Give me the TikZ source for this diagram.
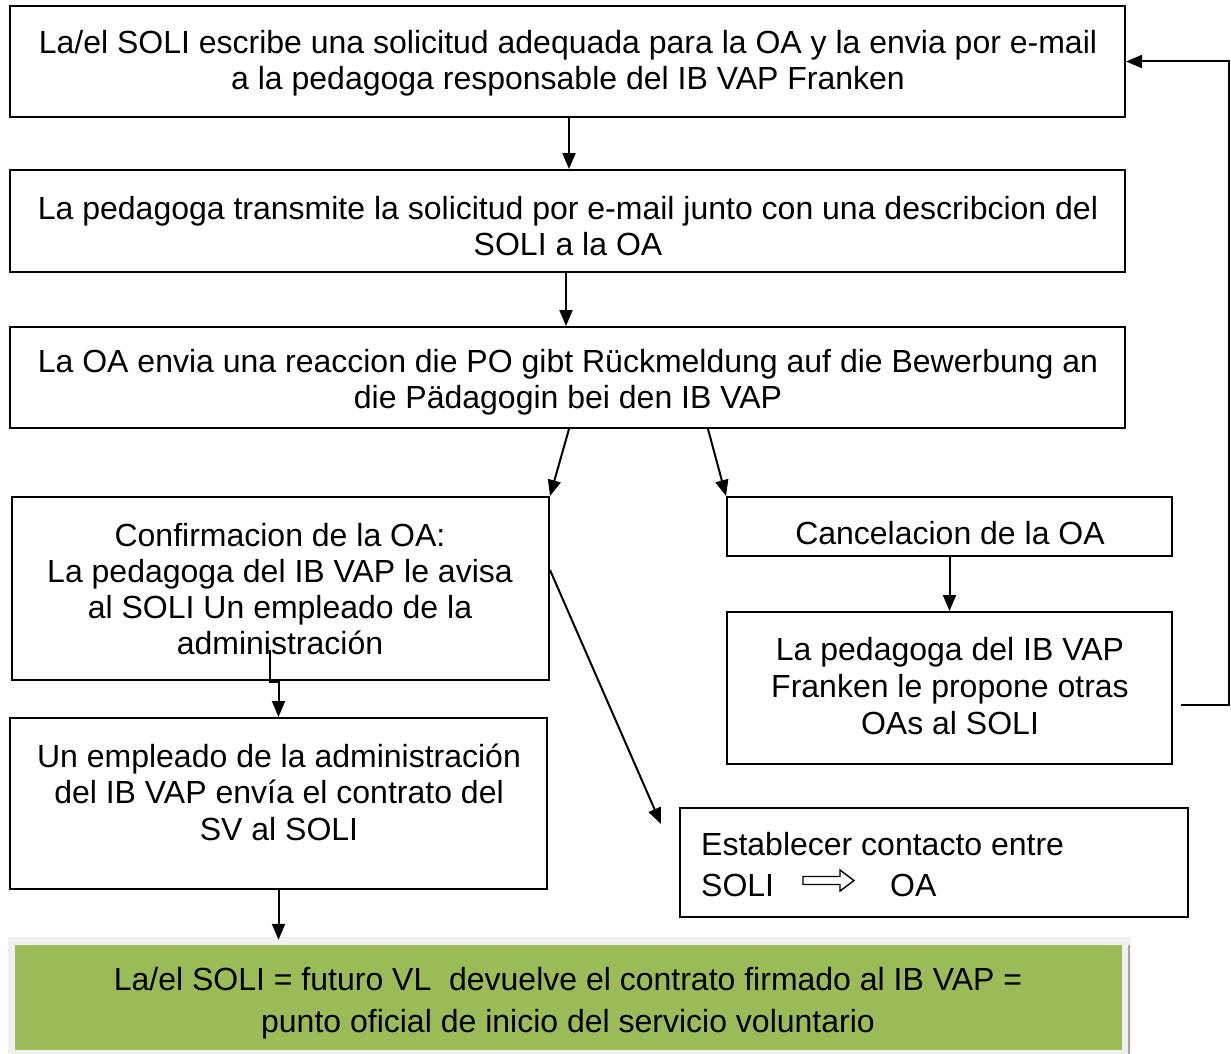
\documentclass[tikz,border=0pt]{standalone}
\usepackage{fontspec}
\setmainfont{Liberation Sans}
\usetikzlibrary{arrows.meta,calc}
\definecolor{okgreen}{HTML}{9BBB59}
\definecolor{framegray}{HTML}{F0F0F0}
\definecolor{edgegray}{HTML}{A6A6A6}
\tikzset{
  boxnode/.style={draw, line width=2pt, inner sep=0pt},
  lbl/.style={align=center, inner sep=0pt, font=\fontsize{32}{36}\selectfont},
  arr/.style={line width=2pt, -{Triangle[length=16pt,width=13pt]}},
}
\begin{document}
\begin{tikzpicture}[x=1pt,y=-1pt]
\useasboundingbox (0,0) rectangle (1231,1054);
% boxes
\node[boxnode, minimum width=1115pt, minimum height=111pt] (box1) at (567.5,61.5) {};
\node[boxnode, minimum width=1115pt, minimum height=102pt] (box2) at (567.5,221) {};
\node[boxnode, minimum width=1115pt, minimum height=101pt] (box3) at (567.5,377.5) {};
\node[boxnode, minimum width=537pt, minimum height=183pt] (conf) at (280.5,588.5) {};
\node[boxnode, minimum width=445pt, minimum height=59pt] (canc) at (949.5,526.5) {};
\node[boxnode, minimum width=445pt, minimum height=152pt] (ped) at (949.5,688) {};
\node[boxnode, minimum width=537pt, minimum height=171pt] (emp) at (278.5,803.5) {};
\node[boxnode, minimum width=508pt, minimum height=109pt] (est) at (934,862.5) {};
% green box
\fill[framegray] (8,937) rectangle (1131,1054);
\node[fill=okgreen, inner sep=0pt, minimum width=1107pt, minimum height=105pt] (green) at (568.5,997.5) {};
\draw[edgegray, line width=2.5pt] (1129,945) -- (1129,1054);
% texts
\node[lbl] (t1) at (568,63) {La/el SOLI escribe una solicitud adequada para la OA y la envia por e-mail\\a la pedagoga responsable del IB VAP Franken};
\node[lbl] (t2) at (568,226) {La pedagoga transmite la solicitud por e-mail junto con una describcion del\\SOLI a la OA};
\node[lbl] (t3) at (568,382) {La OA envia una reaccion die PO gibt Rückmeldung auf die Bewerbung an\\die Pädagogin bei den IB VAP};
\node[lbl] (tconf) at (280,589) {Confirmacion de la OA:\\La pedagoga del IB VAP le avisa\\al SOLI Un empleado de la\\administración};
\node[lbl] (tcanc) at (950,533) {Cancelacion de la OA};
\node[lbl, font=\fontsize{32}{37}\selectfont] (tped) at (950,686) {La pedagoga del IB VAP\\Franken le propone otras\\OAs al SOLI};
\node[lbl, font=\fontsize{32}{36.5}\selectfont] (temp) at (279,792) {Un empleado de la administración\\del IB VAP envía el contrato del\\SV al SOLI};
\node[lbl, font=\fontsize{32}{42}\selectfont] (tgreen) at (568,1003) {La/el SOLI = futuro VL\ \ devuelve el contrato firmado al IB VAP =\\punto oficial de inicio del servicio voluntario};
\node[lbl, anchor=west] (test1) at (701,844) {Establecer contacto entre};
\node[lbl, anchor=west] (test2) at (701,885) {SOLI};
\node[lbl, anchor=west] (test3) at (890,885) {OA};
% hollow arrow SOLI => OA
\draw[line width=1.4pt, fill=white, line join=miter] (803,876.5) -- (840,876.5) -- (840,870) -- (854,880.5) -- (840,891) -- (840,884.5) -- (803,884.5) -- cycle;
% connectors
\draw[arr] ([xshift=1.5pt]box1.south) -- ([xshift=1.5pt]box2.north);
\draw[arr] ([xshift=-1.5pt]box2.south) -- ([xshift=-1.5pt]box3.north);
\draw[arr] ([xshift=1.5pt]box3.south) -- (conf.north east);
\draw[arr] ([xshift=140.5pt]box3.south) -- (canc.north west);
\draw[arr] (canc.south) -- (ped.north);
\coordinate (fbstart) at ([xshift=8pt,yshift=-17pt]ped.east);
\draw[arr] (fbstart) -- ++(48,0) |- (box1.east);
\coordinate (cj) at (270,650);
\draw[arr] (cj) |- ($(emp.north)+(0,-35)$) -- (emp.north);
\draw[arr] (emp.south) -- ($(emp.south |- green.north)+(0,-5)$);
\coordinate (diagend) at ([xshift=-18pt,yshift=-17pt]est.north west);
\draw[arr] ([yshift=18.5pt]conf.east) -- (diagend);
\end{tikzpicture}
\end{document}
